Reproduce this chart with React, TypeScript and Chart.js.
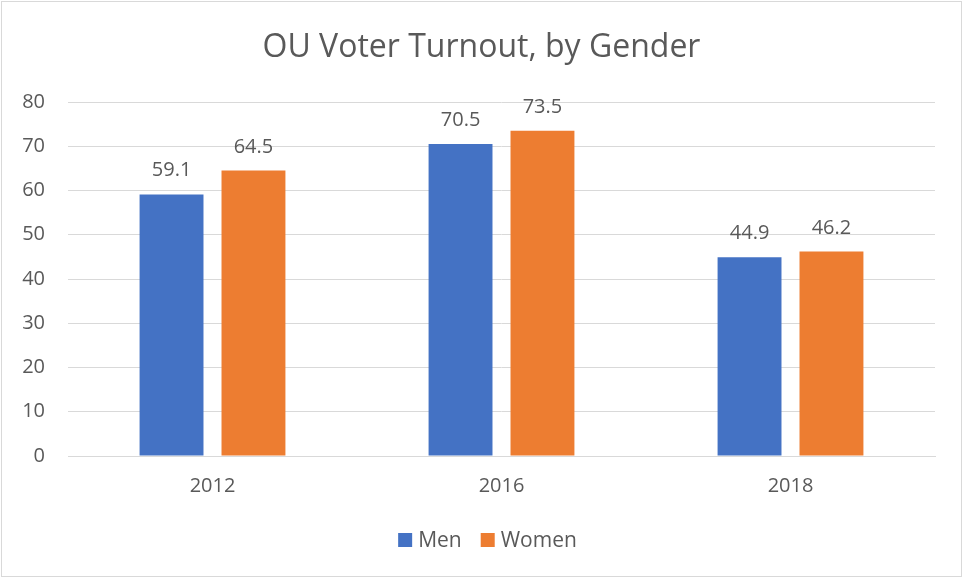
import React, { useEffect, useRef } from "react";
import { Chart, registerables } from "chart.js";

Chart.register(...registerables);

const categories = ["2012", "2016", "2018"];
const menValues = [59.1, 70.5, 44.9];
const womenValues = [64.5, 73.5, 46.2];
const yTicks = [0, 10, 20, 30, 40, 50, 60, 70, 80];
const titleText = "OU Voter Turnout, by Gender";

const FONT = "'Open Sans', sans-serif";
const TEXT = "#595959";

const decorPlugin = {
  id: "decor",
  afterDraw(chart: any) {
    const ctx = chart.ctx;
    ctx.save();
    // border
    ctx.strokeStyle = "#D9D9D9";
    ctx.lineWidth = 1;
    ctx.strokeRect(1.5, 1.5, chart.width - 3, chart.height - 3);
    // title
    ctx.fillStyle = TEXT;
    ctx.font = `32px ${FONT}`;
    ctx.textAlign = "center";
    ctx.textBaseline = "alphabetic";
    ctx.fillText(titleText, chart.width / 2, 57);
    // data labels
    ctx.font = `20px ${FONT}`;
    chart.data.datasets.forEach((ds: any, di: number) => {
      const meta = chart.getDatasetMeta(di);
      meta.data.forEach((bar: any, i: number) => {
        ctx.fillText(String(ds.data[i]), bar.x, bar.y - 18);
      });
    });
    // legend
    ctx.font = `21px ${FONT}`;
    ctx.textAlign = "left";
    const items = chart.data.datasets.map((ds: any) => ({
      label: ds.label,
      color: ds.backgroundColor,
      w: ctx.measureText(ds.label).width,
    }));
    const box = 14;
    const gapBox = 6;
    const gapItem = 19;
    let total = 0;
    items.forEach((it: any, i: number) => {
      total += box + gapBox + it.w + (i < items.length - 1 ? gapItem : 0);
    });
    let x = chart.width / 2 + 6 - total / 2;
    const ly = 540;
    items.forEach((it: any) => {
      ctx.fillStyle = it.color;
      ctx.fillRect(x, ly - box / 2, box, box);
      x += box + gapBox;
      ctx.fillStyle = TEXT;
      ctx.textBaseline = "middle";
      ctx.fillText(it.label, x, ly + 1);
      x += it.w + gapItem;
    });
    ctx.restore();
  },
};

export default function App() {
  const ref = useRef<HTMLCanvasElement | null>(null);
  useEffect(() => {
    if (!ref.current) return;
    const chart = new Chart(ref.current, {
      type: "bar",
      data: {
        labels: categories,
        datasets: [
          {
            label: "Men",
            data: menValues,
            backgroundColor: "#4472C4",
            categoryPercentage: 0.567,
            barPercentage: 0.78,
          },
          {
            label: "Women",
            data: womenValues,
            backgroundColor: "#ED7D31",
            categoryPercentage: 0.567,
            barPercentage: 0.78,
          },
        ],
      },
      options: {
        responsive: false,
        animation: false,
        devicePixelRatio: 1,
        layout: { padding: { left: 0, right: 28, top: 102, bottom: 0 } },
        plugins: {
          legend: { display: false },
          title: { display: false },
          tooltip: { enabled: false },
        },
        scales: {
          x: {
            grid: { display: false, drawTicks: false },
            border: { display: true, color: "#D9D9D9", width: 1 },
            ticks: { color: TEXT, font: { family: FONT, size: 20 }, padding: 18 },
            afterFit: (s: any) => {
              s.height = 122;
            },
          },
          y: {
            min: 0,
            max: 80,
            afterBuildTicks: (s: any) => {
              s.ticks = yTicks.map((v) => ({ value: v }));
            },
            grid: { color: "#D9D9D9", drawTicks: false, lineWidth: 1 },
            border: { display: false },
            ticks: {
              color: TEXT,
              font: { family: FONT, size: 20 },
              padding: 23,
            },
            afterFit: (s: any) => {
              s.width = 68;
            },
          },
        },
      },
      plugins: [decorPlugin],
    });
    return () => chart.destroy();
  }, []);
  return (
    <div style={{ position: "fixed", left: 0, top: 0, width: 963, height: 578, background: "#fff" }}>
      <canvas ref={ref} width={963} height={578} style={{ display: "block" }} />
    </div>
  );
}
